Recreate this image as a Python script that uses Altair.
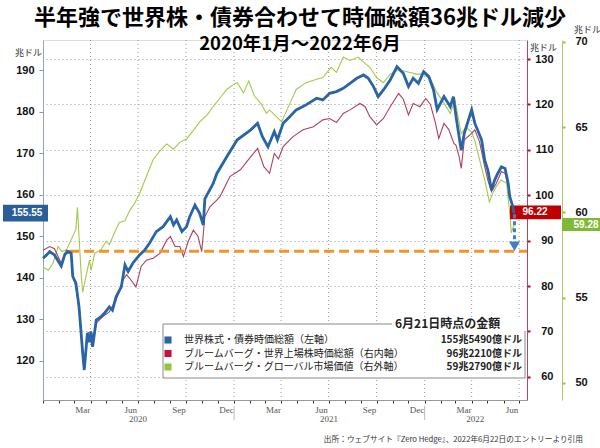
import altair as alt
import pandas as pd

# ---------------- data ----------------
blue_dates = ["2020-01-01","2020-01-08","2020-01-14","2020-01-23","2020-02-05","2020-02-12","2020-02-18","2020-02-24","2020-02-27","2020-03-04","2020-03-10","2020-03-17","2020-03-20","2020-03-26","2020-03-30","2020-04-02","2020-04-05","2020-04-12","2020-04-20","2020-04-28","2020-05-07","2020-05-13","2020-05-20","2020-05-30","2020-06-06","2020-06-12","2020-06-21","2020-07-04","2020-07-14","2020-07-23","2020-08-05","2020-08-18","2020-09-01","2020-09-07","2020-09-13","2020-09-23","2020-10-02","2020-10-08","2020-10-18","2020-10-27","2020-11-03","2020-11-06","2020-11-22","2020-11-29","2020-12-18","2021-01-07","2021-02-02","2021-02-15","2021-02-24","2021-03-07","2021-03-19","2021-03-25","2021-04-05","2021-04-18","2021-04-30","2021-05-19","2021-06-08","2021-06-20","2021-07-03","2021-07-16","2021-07-29","2021-08-11","2021-08-24","2021-09-06","2021-09-15","2021-09-25","2021-10-04","2021-10-14","2021-10-27","2021-11-09","2021-11-21","2021-12-01","2021-12-10","2021-12-20","2021-12-30","2022-01-09","2022-01-18","2022-01-25","2022-02-07","2022-02-19","2022-02-25","2022-03-03","2022-03-12","2022-03-18","2022-04-01","2022-04-07","2022-04-20","2022-04-26","2022-05-02","2022-05-09","2022-05-15","2022-05-21","2022-05-28","2022-06-04","2022-06-10","2022-06-13","2022-06-19","2022-06-21"]
blue_vals = [144.7,145.5,146.3,145.5,142.8,145.7,146.3,145.9,140.3,138.7,133.0,121.9,117.8,126.7,124.5,127.0,123.4,129.8,130.5,131.5,133.0,132.2,135.4,137.8,143.1,141.5,143.5,145.5,146.7,148.3,151.1,152.3,154.7,152.7,153.9,151.1,152.3,154.7,157.5,155.5,152.7,159.0,162.7,165.1,169.1,173.2,175.6,177.2,174.0,171.5,175.2,173.2,177.2,178.8,180.4,181.6,183.2,182.8,184.4,184.8,185.6,186.8,188.0,188.8,188.0,186.0,183.6,185.2,187.6,190.8,189.2,186.0,188.0,186.8,189.6,188.4,185.2,180.5,183.6,181.2,183.6,178.0,170.7,174.8,180.4,177.2,173.2,168.3,165.9,161.1,163.5,165.1,166.7,166.3,162.7,159.5,157.1,155.55]

red_dates = ["2020-01-01","2020-01-14","2020-01-23","2020-02-05","2020-02-15","2020-02-24","2020-02-27","2020-03-04","2020-03-10","2020-03-17","2020-03-20","2020-03-26","2020-04-02","2020-04-05","2020-04-12","2020-04-24","2020-05-07","2020-05-20","2020-06-02","2020-06-09","2020-06-15","2020-06-27","2020-07-07","2020-07-17","2020-07-30","2020-08-12","2020-08-25","2020-09-01","2020-09-10","2020-09-19","2020-09-26","2020-10-05","2020-10-15","2020-10-24","2020-10-31","2020-11-06","2020-11-16","2020-11-29","2020-12-05","2020-12-24","2021-01-13","2021-02-02","2021-02-15","2021-02-27","2021-03-10","2021-03-19","2021-03-27","2021-04-05","2021-04-24","2021-05-13","2021-06-02","2021-06-20","2021-07-03","2021-07-16","2021-07-29","2021-08-11","2021-08-30","2021-09-09","2021-09-18","2021-10-01","2021-10-14","2021-10-27","2021-11-12","2021-11-21","2021-12-01","2021-12-10","2021-12-23","2022-01-03","2022-01-12","2022-01-21","2022-01-28","2022-02-07","2022-02-16","2022-02-26","2022-03-02","2022-03-08","2022-03-12","2022-03-18","2022-04-01","2022-04-07","2022-04-16","2022-04-26","2022-05-02","2022-05-09","2022-05-18","2022-05-28","2022-06-04","2022-06-10","2022-06-16","2022-06-21"]
red_vals = [87.9,88.7,88.2,85.0,87.9,87.5,82.5,79.8,75.4,65.2,61.5,69.6,69.9,66.6,71.8,73.2,74.3,76.9,81.3,82.5,81.7,79.8,84.3,85.7,86.1,87.2,90.1,90.9,88.7,88.7,86.5,89.8,92.3,90.9,87.6,95.3,97.5,98.9,99.7,104.1,105.6,108.5,110.3,106.3,104.8,109.2,108.0,110.7,112.9,114.4,115.1,116.6,116.9,116.0,118.0,118.8,120.2,119.5,117.3,115.5,116.9,119.5,122.4,121.2,117.7,120.2,119.5,121.3,120.0,116.2,112.5,115.8,114.5,111.4,111.0,108.5,105.9,112.2,113.6,114.4,111.8,106.3,103.3,100.8,102.6,105.2,104.8,101.9,98.2,96.22]

green_dates = ["2020-01-01","2020-01-11","2020-01-20","2020-01-30","2020-02-06","2020-02-15","2020-02-24","2020-03-04","2020-03-07","2020-03-10","2020-03-14","2020-03-17","2020-03-23","2020-03-30","2020-04-02","2020-04-09","2020-04-21","2020-05-01","2020-05-07","2020-05-17","2020-05-26","2020-06-06","2020-06-15","2020-06-24","2020-07-04","2020-07-17","2020-07-30","2020-08-12","2020-08-25","2020-09-07","2020-09-19","2020-10-02","2020-10-15","2020-10-27","2020-11-10","2020-11-22","2020-12-05","2020-12-18","2020-12-31","2021-01-07","2021-01-19","2021-01-29","2021-02-09","2021-02-21","2021-03-04","2021-03-10","2021-04-02","2021-04-18","2021-04-30","2021-05-19","2021-06-08","2021-06-20","2021-07-06","2021-07-16","2021-07-29","2021-08-11","2021-08-27","2021-09-06","2021-09-18","2021-10-01","2021-10-14","2021-10-27","2021-11-09","2021-11-21","2021-12-04","2021-12-17","2021-12-30","2022-01-12","2022-01-25","2022-02-07","2022-02-19","2022-02-28","2022-03-06","2022-03-12","2022-03-21","2022-04-01","2022-04-07","2022-04-16","2022-04-26","2022-05-05","2022-05-11","2022-05-18","2022-05-27","2022-06-07","2022-06-13","2022-06-16","2022-06-21"]
green_vals = [56.8,56.6,57.0,58.0,57.7,57.8,58.4,59.0,60.3,58.6,56.4,55.3,56.2,57.2,56.6,57.6,57.8,58.3,58.1,58.8,59.4,59.5,60.1,60.5,61.1,62.1,63.1,63.6,64.0,63.7,64.1,64.3,64.8,65.3,65.7,66.2,66.7,67.2,67.5,67.6,67.0,67.7,66.8,66.4,65.8,66.0,65.3,66.4,67.2,67.6,67.8,67.9,68.5,68.2,69.1,68.9,69.1,68.8,68.5,67.9,67.6,68.1,68.3,68.3,68.2,68.1,68.1,67.8,67.0,66.4,65.8,66.6,65.6,64.6,65.0,64.7,64.2,63.1,61.9,60.6,61.1,61.5,61.9,61.7,59.9,58.8,59.28]

# pre-COVID reference level (left axis) and the arrow at the end of the blue line
ref_level = 146.4
ref_start, ref_end = "2020-02-20", "2022-07-16"
arrow_date, arrow_top, arrow_tip = "2022-06-22", 155.3, 147.6

quarter_starts = ["2020-04-01","2020-07-01","2020-10-01","2021-01-01","2021-04-01","2021-07-01","2021-10-01","2022-01-01","2022-04-01","2022-07-01"]
year_labels = ["2020", "2021", "2022"]
year_label_dates = ["2020-07-01", "2021-07-02", "2022-04-08"]
year_breaks = ["2021-01-01", "2022-01-01"]

legend_names = ["世界株式・債券時価総額（左軸）", "ブルームバーグ・世界上場株時価総額（右内軸）", "ブルームバーグ・グローバル市場価値（右外軸）"]
legend_values = ["155兆5490億ドル", "96兆2210億ドル", "59兆2790億ドル"]
legend_header = "6月21日時点の金額"
source_note = "出所：ウェブサイト『Zero Hedge』、2022年6月22日のエントリーより引用"
title_text = "半年強で世界株・債券合わせて時価総額36兆ドル減少"
subtitle_text = "2020年1月～2022年6月"

# ---------------- styling ----------------
JP = "Noto Sans CJK JP"
NUM = "Liberation Sans"
BLUE = "#2864A6"
BLUE_BOX = "#2A5E99"
RED_LINE = "#B0405E"
RED_BOX = "#C00000"
GREEN_LINE = "#A2CB48"
GREEN_BOX = "#7FBA35"
legend_colors = [BLUE, "#C0143C", "#8DC63F"]

W, H = 484, 360

x_scale = alt.Scale(type="utc", nice=False,
                    domain=[alt.DateTime(year=2020, month=1, date=1, utc=True),
                            alt.DateTime(year=2022, month=7, date=16, utc=True)])
month_vals = [alt.DateTime(year=y, month=m, date=1, utc=True)
              for y in (2020, 2021, 2022) for m in range(1, 13) if not (y == 2022 and m > 7)]
x_axis = alt.Axis(values=month_vals, title=None, grid=False,
                  labelExpr="indexof([2,5,8,11], utcmonth(datum.value)) >= 0 ? utcFormat(datum.value, '%b') : ''",
                  labelOffset=8, labelOverlap=False, labelFlush=False,
                  labelFont="Liberation Sans Narrow", labelFontSize=9, labelColor="#555",
                  labelPadding=2, tickSize=3, tickColor="#333", domainColor="#999")


def X(field):
    return alt.X(f"{field}:T", scale=x_scale, axis=x_axis)


left_scale = alt.Scale(domain=[110.58, 197.22], nice=False, zero=False)
left_axis = alt.Axis(orient="left", values=list(range(120, 191, 10)), grid=False,
                     title="兆ドル", titleAngle=0, titleX=-15, titleY=12, titleAlign="center",
                     titleBaseline="middle", titleFont=JP, titleFontSize=9, titleFontWeight="normal",
                     titleColor="#333", labelFont=NUM, labelFontWeight="bold", labelFontSize=11,
                     labelColor="#111", labelPadding=5, tickSize=4, tickColor="#7F98B4",
                     domainColor="#8FA6C0")

red_scale = alt.Scale(domain=[54.89, 134.19], nice=False, zero=False)
red_axis = alt.Axis(orient="right", values=list(range(60, 131, 10)), grid=True,
                    gridColor="#999", gridDash=[1, 3], gridWidth=1,
                    title="兆ドル", titleAngle=0, titleX=16, titleY=7, titleAlign="center",
                    titleBaseline="middle", titleFont=JP, titleFontSize=9, titleFontWeight="normal",
                    titleColor="#333", labelFont=NUM, labelFontWeight="bold", labelFontSize=11,
                    labelColor="#111", labelAlign="right", labelPadding=23, tickSize=3,
                    tickColor="#C00030", tickWidth=2, domainColor="#A84A62")

green_scale = alt.Scale(domain=[49.0, 70.1], nice=False, zero=False)
green_axis = alt.Axis(orient="right", offset=35, values=[50, 55, 60, 65, 70], grid=False,
                      title="兆ドル", titleAngle=0, titleX=25, titleY=-11, titleAlign="center",
                      titleBaseline="middle", titleFont=JP, titleFontSize=9, titleFontWeight="normal",
                      titleColor="#333", labelFont=NUM, labelFontWeight="bold", labelFontSize=11,
                      labelColor="#111", labelAlign="left", labelPadding=10, tickSize=3,
                      tickColor="#8DC63F", tickWidth=2, domainColor="#A8D060")


def YL(field):
    return alt.Y(f"{field}:Q", scale=left_scale, axis=left_axis)


def YR(field):
    return alt.Y(f"{field}:Q", scale=red_scale, axis=red_axis)


def YG(field):
    return alt.Y(f"{field}:Q", scale=green_scale, axis=green_axis)


# ---------------- data frames ----------------
blue_df = pd.DataFrame({"date": blue_dates, "v": blue_vals})
red_df = pd.DataFrame({"date": red_dates, "v": red_vals})
green_df = pd.DataFrame({"date": green_dates, "v": green_vals})

blue_last = pd.DataFrame({"v": [blue_vals[-1]], "label": [f"{blue_vals[-1]:.2f}"]})
red_last = pd.DataFrame({"v": [red_vals[-1]], "label": [f"{red_vals[-1]:.2f}"]})
green_last = pd.DataFrame({"v": [green_vals[-1]], "label": [f"{green_vals[-1]:.2f}"]})

ref_df = pd.DataFrame({"start": [ref_start], "end": [ref_end], "level": [ref_level]})
arrow_df = pd.DataFrame({"date": [arrow_date], "top": [arrow_top], "tip": [arrow_tip]})
grid_df = pd.DataFrame({"date": quarter_starts})
year_df = pd.DataFrame({"date": year_label_dates, "label": year_labels})
break_df = pd.DataFrame({"date": year_breaks})
legend_df = pd.DataFrame({"row": [0, 1, 2], "name": legend_names, "value": legend_values,
                          "color": legend_colors})
one = pd.DataFrame({"k": [0]})

# ---------------- layers ----------------
vgrid = alt.Chart(grid_df).mark_rule(color="#999", strokeDash=[1, 3], strokeWidth=1).encode(x=X("date"))

green_line = alt.Chart(green_df).mark_line(color=GREEN_LINE, strokeWidth=1.1).encode(x=X("date"), y=YG("v"))
green_box = alt.Chart(green_last).transform_calculate(lo="datum.v - 0.38", hi="datum.v + 0.38").mark_rect(
    color=GREEN_BOX).encode(x=alt.value(519), x2=alt.value(562), y=YG("lo"), y2="hi:Q")
green_txt = alt.Chart(green_last).mark_text(color="white", font=NUM, fontWeight="bold", fontSize=10,
                                            baseline="middle", align="center").encode(
    x=alt.value(543), y=YG("v"), text="label:N")
green_grp = alt.layer(green_line, green_box, green_txt)

red_line = alt.Chart(red_df).mark_line(color=RED_LINE, strokeWidth=1.1).encode(x=X("date"), y=YR("v"))
red_box = alt.Chart(red_last).transform_calculate(lo="datum.v - 1.5", hi="datum.v + 1.5").mark_rect(
    color=RED_BOX).encode(x=alt.value(467), x2=alt.value(518), y=YR("lo"), y2="hi:Q")
red_txt = alt.Chart(red_last).mark_text(color="white", font=NUM, fontWeight="bold", fontSize=10,
                                        baseline="middle", align="center").encode(
    x=alt.value(492), y=YR("v"), text="label:N")
red_grp = alt.layer(red_line, red_box, red_txt)

ref_line = alt.Chart(ref_df).mark_rule(color="#F0952A", strokeWidth=3, strokeDash=[10, 5]).encode(
    x=X("start"), x2="end:T", y=YL("level"))
blue_line = alt.Chart(blue_df).mark_line(color=BLUE, strokeWidth=2.8).encode(x=X("date"), y=YL("v"))
arrow_shaft = alt.Chart(arrow_df).mark_rule(color="#3F7FC4", strokeWidth=3, strokeDash=[4, 3]).encode(
    x=X("date"), y=YL("top"), y2="tip:Q")
arrow_head = alt.Chart(arrow_df).mark_point(shape="triangle-down", filled=True, size=120, color="#3F7FC4",
                                            opacity=1).encode(x=X("date"), y=YL("tip"))
blue_box = alt.Chart(blue_last).transform_calculate(lo="datum.v - 2.0", hi="datum.v + 2.0").mark_rect(
    color=BLUE_BOX).encode(x=alt.value(-40), x2=alt.value(5), y=YL("lo"), y2="hi:Q")
blue_txt = alt.Chart(blue_last).mark_text(color="white", font=NUM, fontWeight="bold", fontSize=10,
                                          baseline="middle", align="center").encode(
    x=alt.value(-16), y=YL("v"), text="label:N")
blue_grp = alt.layer(ref_line, blue_line, arrow_shaft, arrow_head, blue_box, blue_txt)

# legend (drawn as a boxed table)
leg_box = alt.Chart(one).mark_rect(fill="white", stroke="#888", strokeWidth=1).encode(
    x=alt.value(120), x2=alt.value(482), y=alt.value(284), y2=alt.value(338))
leg_hdr_bg = alt.Chart(one).mark_rect(fill="white").encode(
    x=alt.value(349), x2=alt.value(484), y=alt.value(277), y2=alt.value(291))
leg_hdr = alt.Chart(one).transform_calculate(t=f"'{legend_header}'").mark_text(
    font=JP, fontSize=12, fontWeight="bold", align="left", baseline="middle", color="#222").encode(
    x=alt.value(352), y=alt.value(284), text="t:N")
row_y = alt.Y("row:Q", scale=alt.Scale(domain=[0, 2], range=[300, 327], nice=False, zero=False), axis=None)
leg_sq = alt.Chart(legend_df).mark_square(size=50, opacity=1).encode(
    x=alt.value(125), y=row_y, color=alt.Color("color:N", scale=None))
leg_name = alt.Chart(legend_df).mark_text(font=JP, fontSize=10, align="left", baseline="middle",
                                          color="#222").encode(x=alt.value(141), y=row_y, text="name:N")
leg_val = alt.Chart(legend_df).mark_text(font=JP, fontSize=10, fontWeight="bold", align="right",
                                         baseline="middle", color="#222").encode(
    x=alt.value(479), y=row_y, text="value:N")
legend_grp = alt.layer(leg_box, leg_hdr_bg, leg_hdr, leg_sq, leg_name, leg_val)

# x-axis year row and source note
year_txt = alt.Chart(year_df).mark_text(font="Liberation Sans Narrow", fontSize=9, color="#555",
                                        baseline="middle").encode(x=X("date"), y=alt.value(379), text="label:N")
year_sep = alt.Chart(break_df).mark_rule(color="#BBB", strokeWidth=1).encode(
    x=X("date"), y=alt.value(366), y2=alt.value(380))
src_txt = alt.Chart(one).transform_calculate(t=f"'{source_note}'").mark_text(
    font=JP, fontSize=7.7, align="right", baseline="middle", color="#333").encode(
    x=alt.value(540), y=alt.value(400), text="t:N")
annot = alt.layer(year_txt, year_sep, src_txt)

chart = alt.layer(vgrid, green_grp, red_grp, blue_grp, legend_grp, annot).resolve_scale(
    y="independent"
).properties(
    width=W, height=H,
    autosize=alt.AutoSizeParams(type="none"),
    padding={"left": 43, "top": 40, "right": 73, "bottom": 48},
    title=alt.Title(text=title_text, subtitle=subtitle_text, anchor="middle", frame="group",
                    offset=-29, dx=15, font=JP, fontSize=22, fontWeight="bold", color="#000",
                    subtitleFont=JP, subtitleFontSize=18.5, subtitleFontWeight="bold",
                    subtitleColor="#000", subtitlePadding=5),
).configure_view(stroke=None).configure(font=JP)

chart.save("out.html", embed_options={"renderer": "svg", "actions": False})
